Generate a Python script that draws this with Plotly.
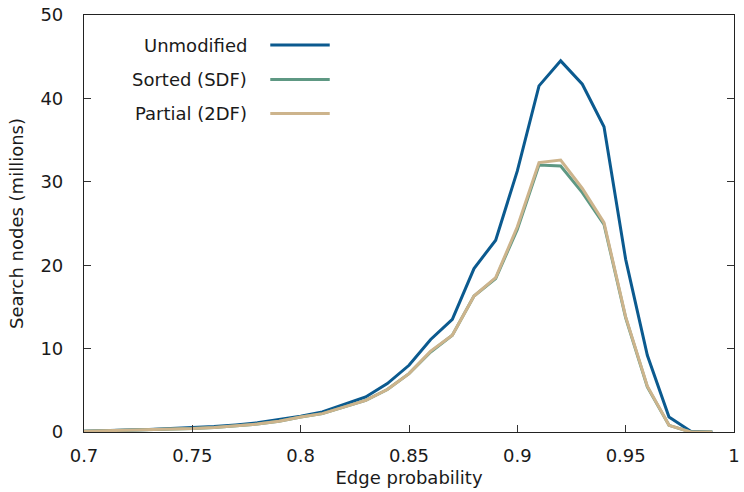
import plotly.graph_objects as go

edge_prob = [0.70, 0.71, 0.72, 0.73, 0.74, 0.75, 0.76, 0.77, 0.78, 0.79,
             0.80, 0.81, 0.82, 0.83, 0.84, 0.85, 0.86, 0.87, 0.88, 0.89,
             0.90, 0.91, 0.92, 0.93, 0.94, 0.95, 0.96, 0.97, 0.98, 0.99]
unmodified = [0.1, 0.2, 0.25, 0.3, 0.4, 0.5, 0.65, 0.85, 1.1, 1.5,
              1.9, 2.4, 3.3, 4.2, 5.8, 8.0, 11.1, 13.5, 19.6, 23.0,
              31.3, 41.5, 44.5, 41.7, 36.6, 20.7, 9.2, 1.8, 0.1, 0.0]
sorted_sdf = [0.08, 0.15, 0.2, 0.25, 0.32, 0.42, 0.55, 0.72, 0.95, 1.3,
              1.8, 2.2, 3.0, 3.8, 5.1, 7.0, 9.6, 11.6, 16.3, 18.4,
              24.3, 32.0, 31.9, 28.7, 24.9, 13.7, 5.4, 0.8, 0.0, 0.0]
partial_2df = [0.08, 0.15, 0.2, 0.25, 0.32, 0.42, 0.55, 0.72, 0.95, 1.3,
               1.8, 2.2, 3.0, 3.8, 5.1, 7.0, 9.7, 11.6, 16.3, 18.5,
               24.6, 32.3, 32.6, 29.2, 25.1, 13.8, 5.5, 0.8, 0.0, 0.0]

series_names = ["Unmodified", "Sorted (SDF)", "Partial (2DF)"]
series_values = [unmodified, sorted_sdf, partial_2df]
colors = ["#0B5A8F", "#5E9883", "#CDB48C"]

x_tick_vals = [0.7, 0.75, 0.8, 0.85, 0.9, 0.95, 1.0]
x_tick_text = ["0.7", "0.75", "0.8", "0.85", "0.9", "0.95", "1"]
y_tick_vals = [0, 10, 20, 30, 40, 50]

W, H = 744, 492
ml, mr, mt, mb = 84, 4, 15, 60
pw, ph = W - ml - mr, H - mt - mb

FONT = "DejaVu Sans"
FS = 18
TXT = "#1a1a1a"

fig = go.Figure()
for name, vals, col in zip(series_names, series_values, colors):
    fig.add_trace(go.Scatter(x=edge_prob, y=vals, mode="lines", name=name,
                             line=dict(color=col, width=3), showlegend=False))

# manual legend: text right-aligned, line sample to the right
legend_rows_px = [45, 79.5, 113.5]
for name, col, ypx in zip(series_names, colors, legend_rows_px):
    yp = 1 - (ypx - mt) / ph
    fig.add_annotation(xref="paper", yref="paper", x=(251 - ml) / pw, y=yp,
                       text=name, showarrow=False, xanchor="right", yanchor="middle",
                       font=dict(family=FONT, size=FS, color=TXT))
    fig.add_shape(type="line", xref="paper", yref="paper",
                  x0=(272 - ml) / pw, x1=(332 - ml) / pw, y0=yp, y1=yp,
                  line=dict(color=col, width=3))

axis_common = dict(showline=True, linecolor="#222", linewidth=1.2,
                   ticks="inside", ticklen=7, tickcolor="#333", tickwidth=1,
                   showgrid=False, zeroline=False, ticklabeloverflow="allow",
                   tickfont=dict(family=FONT, size=FS, color=TXT))

fig.update_xaxes(range=[0.7, 1.0], tickvals=x_tick_vals, ticktext=x_tick_text,
                 mirror=True, ticklabelstandoff=7,
                 title=dict(text="Edge probability", standoff=6,
                            font=dict(family=FONT, size=FS, color=TXT)),
                 **axis_common)
fig.update_yaxes(range=[0, 50], tickvals=y_tick_vals, mirror="allticks",
                 ticklabelstandoff=16,
                 title=dict(text="Search nodes (millions)", standoff=12,
                            font=dict(family=FONT, size=FS, color=TXT)),
                 **axis_common)

fig.update_layout(width=W, height=H, margin=dict(l=ml, r=mr, t=mt, b=mb),
                  plot_bgcolor="white", paper_bgcolor="white",
                  font=dict(family=FONT, size=FS, color=TXT))

fig.write_html("out.html")
